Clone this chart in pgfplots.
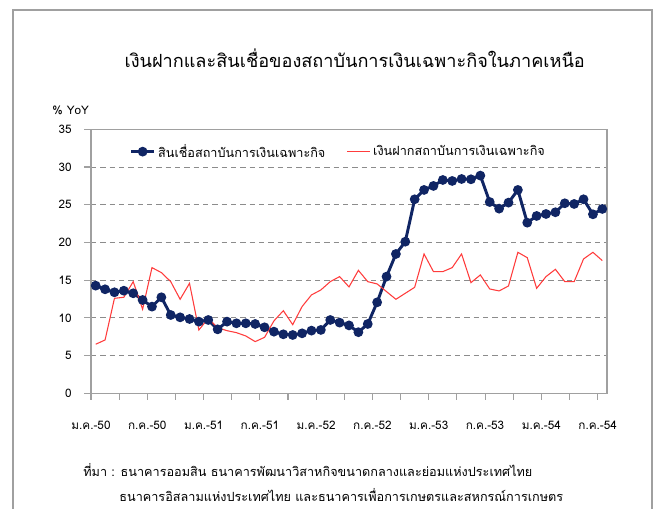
\documentclass[border=0pt]{standalone}
\usepackage{fontspec}
\setmainfont[Script=Thai]{Loma}
\usepackage{pgfplots}
\pgfplotsset{compat=1.18}
\usepackage{pgfplotstable}
\definecolor{loanblue}{RGB}{16,37,100}
\definecolor{depred}{RGB}{255,60,60}
\definecolor{framegray}{RGB}{160,160,160}
\definecolor{gridgray}{RGB}{140,140,140}

% x = month index + 0.5 (Jan 2550 = 0)
\pgfplotstableread{
x y
0.5 14.27
1.5 13.79
2.5 13.39
3.5 13.6
4.5 13.26
5.5 12.37
6.5 11.49
7.5 12.73
8.5 10.38
9.5 10.07
10.5 9.85
11.5 9.5
12.5 9.72
13.5 8.48
14.5 9.5
15.5 9.28
16.5 9.28
17.5 9.19
18.5 8.75
19.5 8.17
20.5 7.82
21.5 7.73
22.5 7.95
23.5 8.31
24.5 8.4
25.5 9.72
26.5 9.37
27.5 9.0
28.5 8.1
29.5 9.19
30.5 12.06
31.5 15.47
32.5 18.47
33.5 20.1
34.5 25.72
35.5 26.96
36.5 27.49
37.5 28.28
38.5 28.15
39.5 28.41
40.5 28.37
41.5 28.86
42.5 25.36
43.5 24.48
44.5 25.28
45.5 26.96
46.5 22.62
47.5 23.51
48.5 23.77
49.5 24.0
50.5 25.19
51.5 25.1
52.5 25.72
53.5 23.73
54.5 24.44
}\loans

\pgfplotstableread{
x y
0.5 6.5
1.5 7.07
2.5 12.59
3.5 12.73
4.5 14.8
5.5 11.14
6.5 16.66
7.5 16.0
8.5 14.8
9.5 12.46
10.5 14.58
11.5 8.39
12.5 9.94
13.5 8.7
14.5 8.3
15.5 8.04
16.5 7.6
17.5 6.85
18.5 7.42
19.5 9.6
20.5 10.95
21.5 9.1
22.5 11.5
23.5 13.04
24.5 13.7
25.5 14.8
26.5 15.47
27.5 14.1
28.5 16.3
29.5 14.8
30.5 14.5
31.5 13.48
32.5 12.46
33.5 13.26
34.5 14.05
35.5 18.47
36.5 16.13
37.5 16.13
38.5 16.66
39.5 18.47
40.5 14.67
41.5 15.69
42.5 13.83
43.5 13.57
44.5 14.23
45.5 18.69
46.5 17.98
47.5 13.92
48.5 15.47
49.5 16.44
50.5 14.8
51.5 14.8
52.5 17.81
53.5 18.69
54.5 17.59
}\deposits

\begin{document}
\begin{tikzpicture}
% page = 659 x 509 px at 0.75pt per px
\useasboundingbox (0pt,0pt) rectangle (494.25pt,381.75pt);
\draw[framegray, line width=1.3pt] (9.75pt,-1pt) -- (9.75pt,374.25pt) -- (489pt,374.25pt) -- (489pt,-1pt);

\node[font=\fontsize{13.6}{15}\selectfont] at (266pt,338.25pt) {เงินฝากและสินเชื่อของสถาบันการเงินเฉพาะกิจในภาคเหนือ};
\node[font=\fontsize{8.8}{10}\selectfont] at (53pt,299.25pt) {\% YoY};

\begin{axis}[
    at={(68.25pt,86.78pt)}, anchor=south west,
    scale only axis, width=387pt, height=198pt,
    xmin=0, xmax=55, ymin=0, ymax=35,
    ytick={0,5,...,35},
    xtick={0,3,...,54},
    xticklabels={ม.ค.-50,,ก.ค.-50,,ม.ค.-51,,ก.ค.-51,,ม.ค.-52,,ก.ค.-52,,ม.ค.-53,,ก.ค.-53,,ม.ค.-54,,ก.ค.-54},
    tick pos=left, tick align=outside,
    major tick length=5pt,
    every tick/.style={framegray, line width=0.8pt},
    axis line style={framegray, line width=0.8pt},
    ymajorgrids, grid style={gridgray, dash pattern=on 4pt off 3pt, line width=0.7pt},
    /pgf/number format/assume math mode=true,
    tick label style={font=\fontsize{8.8}{10}\selectfont},
    yticklabel style={xshift=-6pt},
    xticklabel style={yshift=-12pt},
    legend columns=2,
    legend style={draw=none, fill=none, at={(0.48,0.965)}, anchor=north,
        font=\fontsize{9.5}{11}\selectfont,
        /tikz/every even column/.append style={column sep=14pt}},
    legend cell align=left,
]
\addplot[loanblue, line width=2.2pt, mark=*, mark size=2.5pt] table[x=x, y=y] {\loans};
\addlegendentry{สินเชื่อสถาบันการเงินเฉพาะกิจ}
\addplot[depred, line width=0.8pt] table[x=x, y=y] {\deposits};
\addlegendentry{เงินฝากสถาบันการเงินเฉพาะกิจ}
\end{axis}

\node[font=\fontsize{9.5}{11}\selectfont, anchor=west] at (59pt,29.25pt) {ที่มา : ธนาคารออมสิน ธนาคารพัฒนาวิสาหกิจขนาดกลางและย่อมแห่งประเทศไทย};
\node[font=\fontsize{9.5}{11}\selectfont, anchor=west] at (86pt,10.5pt) {ธนาคารอิสลามแห่งประเทศไทย และธนาคารเพื่อการเกษตรและสหกรณ์การเกษตร};
\end{tikzpicture}
\end{document}
